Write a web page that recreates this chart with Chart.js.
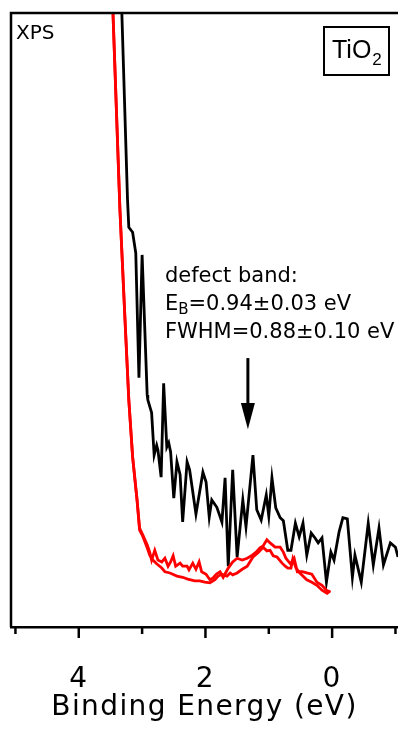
<!DOCTYPE html>
<html>
<head>
<meta charset="utf-8">
<script src="https://cdn.jsdelivr.net/npm/chart.js@4.4.1/dist/chart.umd.min.js"></script>
<style>
body { margin: 0; background: #fff; }
#wrap { width: 398px; height: 734px; position: relative; }
</style>
</head>
<body>
<div id="wrap"><canvas id="myChart"></canvas></div>
<script>
// XPS spectrum (black), binding energy in eV, intensity in arb. units
const blackEnergy = [3.32, 3.23, 3.21, 3.15, 3.10, 3.05, 3.00, 2.92, 2.91, 2.85, 2.81, 2.77, 2.75, 2.70, 2.66, 2.61, 2.58, 2.55, 2.50, 2.45, 2.40, 2.36, 2.29, 2.25, 2.15, 2.04, 1.99, 1.94, 1.90, 1.82, 1.74, 1.69, 1.64, 1.57, 1.50, 1.41, 1.36, 1.25, 1.19, 1.12, 1.04, 1.00, 0.95, 0.89, 0.82, 0.77, 0.70, 0.65, 0.58, 0.52, 0.46, 0.40, 0.33, 0.27, 0.22, 0.16, 0.09, 0.02, -0.03, -0.11, -0.17, -0.24, -0.32, -0.36, -0.46, -0.57, -0.65, -0.74, -0.81, -0.92, -1.00, -1.04];
const blackCounts = [100, 69.5, 65.1, 64.3, 60.9, 40.6, 60.6, 37.8, 37.0, 34.9, 28.0, 29.6, 28.8, 24.4, 39.7, 29.3, 30.0, 28.5, 21.0, 26.9, 24.8, 17.1, 26.9, 25.6, 18.4, 25.2, 23.6, 17.9, 20.7, 19.5, 17.1, 24.3, 9.9, 25.6, 11.4, 20.7, 16.3, 28.0, 19.1, 17.4, 21.5, 18.1, 24.3, 19.4, 17.8, 17.3, 12.5, 12.5, 16.9, 14.7, 16.9, 11.7, 15.3, 14.5, 13.7, 14.5, 7.3, 12.2, 10.9, 15.5, 17.8, 17.6, 8.1, 11.7, 7.3, 16.9, 10.1, 16.1, 10.1, 13.7, 13.0, 11.4];

// red spectra (two scans)
const redAEnergy = [3.46, 3.35, 3.27, 3.21, 3.15, 3.08, 3.04, 2.99, 2.92, 2.88, 2.85, 2.80, 2.75, 2.69, 2.64, 2.59, 2.55, 2.51, 2.47, 2.40, 2.36, 2.29, 2.26, 2.20, 2.15, 2.10, 2.06, 1.99, 1.93, 1.88, 1.83, 1.77, 1.72, 1.64, 1.57, 1.50, 1.42, 1.34, 1.26, 1.20, 1.14, 1.09, 1.03, 0.98, 0.90, 0.82, 0.77, 0.73, 0.66, 0.60, 0.55, 0.47, 0.40, 0.32, 0.24, 0.16, 0.09, 0.03];
const redACounts = [100, 67.9, 50.0, 37.0, 27.7, 20.7, 16.1, 15.0, 13.4, 12.2, 10.9, 12.5, 10.9, 10.6, 11.2, 9.9, 10.6, 11.6, 9.9, 10.4, 9.9, 9.9, 9.3, 10.4, 9.4, 10.6, 9.0, 8.6, 7.7, 8.0, 8.6, 9.0, 8.1, 9.6, 10.6, 11.2, 10.9, 11.2, 11.7, 12.2, 12.9, 13.2, 14.2, 13.7, 13.0, 13.0, 12.2, 11.2, 10.3, 11.2, 9.0, 9.0, 8.8, 8.6, 7.3, 6.8, 6.0, 5.7];
const redBEnergy = [3.46, 3.35, 3.27, 3.21, 3.15, 3.08, 3.04, 2.99, 2.92, 2.88, 2.83, 2.77, 2.69, 2.64, 2.56, 2.45, 2.36, 2.28, 2.17, 2.09, 2.01, 1.93, 1.85, 1.80, 1.74, 1.66, 1.61, 1.57, 1.50, 1.42, 1.34, 1.25, 1.17, 1.09, 1.03, 0.98, 0.93, 0.87, 0.79, 0.74, 0.70, 0.65, 0.62, 0.57, 0.51, 0.40, 0.32, 0.24, 0.16, 0.08, 0.03];
const redBCounts = [100, 67.9, 50.0, 37.0, 27.7, 20.7, 15.8, 14.8, 12.9, 11.7, 10.9, 10.3, 9.6, 9.0, 8.8, 8.3, 8.1, 7.8, 7.5, 7.5, 7.3, 7.2, 7.7, 8.3, 8.6, 8.3, 8.8, 8.5, 8.8, 9.4, 9.9, 11.4, 12.1, 13.0, 12.4, 12.5, 11.6, 11.4, 10.4, 9.9, 9.6, 9.6, 11.1, 9.6, 8.8, 7.7, 7.3, 6.8, 6.0, 5.5, 5.9];

const tickValues = [5, 4, 3, 2, 1, 0, -1];
const tickLabels = ['', '4', '', '2', '', '0', ''];

// arrow at the defect band
const arrowEnergy = 1.33;
const arrowTop = 43.8, arrowHead = 36.5, arrowTip = 32.2;
const noteEnergy = 2.64, noteCounts = 56.2;

function toPoints(xs, ys) {
    return xs.map((e, i) => ({ x: e, y: ys[i] }));
}

// extra drawing: frame, tick marks, arrow and labels
const extras = {
    id: 'extras',
    beforeDraw(chart) {
        chart.ctx.letterSpacing = '1.4px';
    },
    beforeDatasetsDraw(chart) {
        chart.ctx.letterSpacing = '0px';
    },
    afterDraw(chart) {
        const ctx = chart.ctx;
        const area = chart.chartArea;
        const xs = chart.scales.x, ys = chart.scales.y;
        ctx.save();
        ctx.letterSpacing = '0px';
        ctx.strokeStyle = '#000';
        ctx.fillStyle = '#000';
        ctx.lineWidth = 2.5;
        ctx.beginPath();
        ctx.moveTo(area.left, area.bottom);
        ctx.lineTo(area.left, area.top);
        ctx.lineTo(area.right, area.top);
        ctx.stroke();

        // major and minor tick marks
        tickValues.forEach((v, i) => {
            const px = xs.getPixelForValue(v);
            const len = tickLabels[i] === '' ? 7 : 11;
            ctx.beginPath();
            ctx.moveTo(px, area.bottom);
            ctx.lineTo(px, area.bottom + len);
            ctx.stroke();
        });

        // arrow
        const ax = xs.getPixelForValue(arrowEnergy);
        ctx.lineWidth = 3;
        ctx.beginPath();
        ctx.moveTo(ax, ys.getPixelForValue(arrowTop));
        ctx.lineTo(ax, ys.getPixelForValue(arrowHead) + 2);
        ctx.stroke();
        ctx.beginPath();
        ctx.moveTo(ax - 7, ys.getPixelForValue(arrowHead));
        ctx.lineTo(ax + 7, ys.getPixelForValue(arrowHead));
        ctx.lineTo(ax, ys.getPixelForValue(arrowTip));
        ctx.closePath();
        ctx.fill();

        // annotation text
        const tx = xs.getPixelForValue(noteEnergy);
        const ty = ys.getPixelForValue(noteCounts);
        ctx.textBaseline = 'alphabetic';
        ctx.textAlign = 'left';
        ctx.font = '21px "DejaVu Sans"';
        ctx.fillText('defect band:', tx, ty);
        ctx.fillText('E', tx, ty + 28);
        let w = ctx.measureText('E').width;
        ctx.font = '15px "DejaVu Sans"';
        ctx.fillText('B', tx + w, ty + 32);
        w += ctx.measureText('B').width;
        ctx.font = '21px "DejaVu Sans"';
        ctx.fillText('=0.94\u00b10.03 eV', tx + w, ty + 28);
        ctx.fillText('FWHM=0.88\u00b10.10 eV', tx, ty + 56);

        // XPS label
        ctx.font = '20px "DejaVu Sans"';
        ctx.fillText('XPS', area.left + 5, area.top + 26);

        // TiO2 box
        const bx = area.right - 74, by = area.top + 14;
        ctx.lineWidth = 2;
        ctx.strokeRect(bx, by, 65, 48);
        ctx.font = '25px "Liberation Sans"';
        ctx.fillText('TiO', bx + 8, by + 31);
        const tw = ctx.measureText('TiO').width;
        ctx.font = '17px "Liberation Sans"';
        ctx.fillText('2', bx + 9 + tw, by + 38);
        ctx.restore();
    }
};

const config = {
    type: 'line',
    data: {
        datasets: [
            { data: toPoints(redAEnergy, redACounts), borderColor: '#ff0000', borderWidth: 2.8 },
            { data: toPoints(redBEnergy, redBCounts), borderColor: '#ff0000', borderWidth: 2.8 },
            { data: toPoints(blackEnergy, blackCounts), borderColor: '#000000', borderWidth: 2.8 }
        ]
    },
    options: {
        responsive: true,
        maintainAspectRatio: false,
        animation: false,
        elements: { point: { radius: 0, hoverRadius: 0 }, line: { tension: 0 } },
        layout: { padding: { left: 11, top: 13, right: 0, bottom: 0 }, autoPadding: false },
        plugins: { legend: { display: false }, tooltip: { enabled: false } },
        scales: {
            x: {
                type: 'linear',
                reverse: true,
                min: -1.04,
                max: 5.07,
                afterBuildTicks: (s) => { s.ticks = tickValues.map(v => ({ value: v })); },
                afterFit: (s) => {
                    s.height = 107;
                    s.paddingLeft = 0;
                    s.paddingRight = 0;
                },
                grid: {
                    drawOnChartArea: false,
                    tickLength: 10,
                    tickColor: 'rgba(0,0,0,0)'
                },
                border: { color: '#000', width: 2.5 },
                ticks: {
                    color: '#000',
                    font: { family: 'DejaVu Sans', size: 28 },
                    padding: 26,
                    maxRotation: 0,
                    autoSkip: false,
                    callback: (value) => tickLabels[tickValues.indexOf(value)]
                },
                title: {
                    display: true,
                    text: 'Binding Energy (eV)',
                    color: '#000',
                    font: { family: 'DejaVu Sans', size: 28 },
                    padding: { top: 0, bottom: 9 }
                }
            },
            y: { display: false, min: 0, max: 100 }
        }
    },
    plugins: [extras]
};

const chartDOM = document.getElementById('myChart');
window.grafica = new Chart(chartDOM, config);
</script>
</body>
</html>
